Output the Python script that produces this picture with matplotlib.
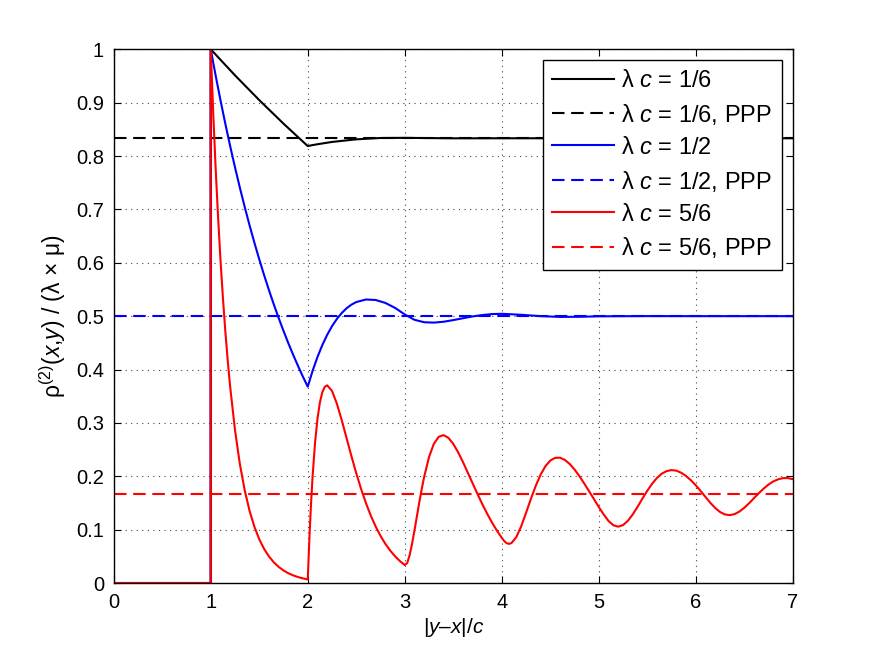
import matplotlib
matplotlib.use('Agg')
import matplotlib.pyplot as plt

plt.rcParams['font.family'] = ['Liberation Sans', 'DejaVu Sans']
plt.rcParams['mathtext.fontset'] = 'custom'
plt.rcParams['mathtext.rm'] = 'Liberation Sans'
plt.rcParams['mathtext.it'] = 'Liberation Sans:italic'

# pair correlation, values
black_r = [0, 1, 1, 1.25, 1.5, 1.75, 2.0, 2.05, 2.1, 2.25, 2.5, 2.75, 3.0, 3.5, 4.0, 5.0, 6.0, 7.0]
black_g = [0, 0, 1, 0.9512, 0.9048, 0.8607, 0.8187, 0.8205, 0.8221, 0.8264, 0.8313, 0.8338, 0.8341,
           0.8332, 0.8333, 0.8333, 0.8333, 0.8333]

blue_r = [0, 1, 1,
          1.05, 1.1, 1.15, 1.2, 1.25, 1.3, 1.35, 1.4, 1.45, 1.5,
          1.55, 1.6, 1.65, 1.7, 1.75, 1.8, 1.85, 1.9, 1.95, 2.0,
          2.05, 2.1, 2.15, 2.2, 2.25, 2.3, 2.35, 2.4, 2.45, 2.5,
          2.6, 2.7, 2.8, 2.9, 3.0, 3.1, 3.2, 3.3, 3.4, 3.5,
          3.6, 3.7, 3.8, 3.9, 4.0, 4.2, 4.4, 4.6, 4.8, 5.0,
          5.5, 6.0, 7.0]
blue_g = [0, 0, 1,
          0.9512, 0.9048, 0.8607, 0.8187, 0.7788, 0.7408, 0.7047, 0.6703, 0.6376, 0.6065,
          0.5769, 0.5488, 0.5220, 0.4966, 0.4724, 0.4493, 0.4274, 0.4066, 0.3867, 0.3679,
          0.3975, 0.4234, 0.4457, 0.4649, 0.4812, 0.4947, 0.5058, 0.5147, 0.5215, 0.5264,
          0.5312, 0.5303, 0.5248, 0.5155, 0.5032, 0.4932, 0.4886, 0.4879, 0.4895, 0.4926,
          0.4961, 0.4995, 0.5021, 0.5039, 0.5044, 0.5026, 0.5000, 0.4986, 0.4988, 0.4997,
          0.5001, 0.5000, 0.5000]

red_r = [0, 1, 1,
         1.025, 1.05, 1.075, 1.1, 1.125, 1.15, 1.175, 1.2, 1.25, 1.3,
         1.35, 1.4, 1.45, 1.5, 1.55, 1.6, 1.65, 1.7, 1.75, 1.8,
         1.85, 1.9, 1.95, 2.0, 2.01, 2.02, 2.035, 2.05, 2.075, 2.1,
         2.125, 2.15, 2.175, 2.2, 2.25, 2.3, 2.35, 2.4, 2.45, 2.5,
         2.55, 2.6, 2.65, 2.7, 2.75, 2.8, 2.85, 2.9, 2.95, 3.0,
         3.025, 3.05, 3.075, 3.1, 3.125, 3.15, 3.175, 3.2, 3.25, 3.3,
         3.35, 3.4, 3.45, 3.5, 3.55, 3.6, 3.65, 3.7, 3.75, 3.8,
         3.85, 3.9, 3.95, 4.0, 4.025, 4.05, 4.075, 4.1, 4.15, 4.2,
         4.25, 4.3, 4.35, 4.4, 4.45, 4.5, 4.55, 4.6, 4.65, 4.7,
         4.75, 4.8, 4.85, 4.9, 4.95, 5.0, 5.05, 5.1, 5.15, 5.2,
         5.25, 5.3, 5.35, 5.4, 5.45, 5.5, 5.55, 5.6, 5.65, 5.7,
         5.75, 5.8, 5.85, 5.9, 5.95, 6.0, 6.05, 6.1, 6.15, 6.2,
         6.25, 6.3, 6.35, 6.4, 6.45, 6.5, 6.55, 6.6, 6.65, 6.7,
         6.75, 6.8, 6.85, 6.9, 6.95, 7.0]
red_g = [0, 0, 1,
         0.8825, 0.7788, 0.6873, 0.6065, 0.5353, 0.4724, 0.4169, 0.3679, 0.2865, 0.2231,
         0.1738, 0.1353, 0.1054, 0.0821, 0.0639, 0.0498, 0.0388, 0.0302, 0.0235, 0.0183,
         0.0143, 0.0111, 0.0087, 0.0067, 0.0540, 0.0966, 0.1526, 0.1999, 0.2623, 0.3074,
         0.3382, 0.3575, 0.3676, 0.3704, 0.3600, 0.3362, 0.3053, 0.2716, 0.2379, 0.2058,
         0.1762, 0.1497, 0.1262, 0.1059, 0.0883, 0.0734, 0.0607, 0.0501, 0.0411, 0.0337,
         0.0374, 0.0519, 0.0732, 0.0983, 0.1248, 0.1512, 0.1761, 0.1988, 0.2359, 0.2608,
         0.2740, 0.2771, 0.2720, 0.2607, 0.2451, 0.2267, 0.2069, 0.1867, 0.1668, 0.1476,
         0.1297, 0.1132, 0.0982, 0.0847, 0.0788, 0.0747, 0.0733, 0.0748, 0.0860, 0.1061,
         0.1311, 0.1575, 0.1819, 0.2028, 0.2188, 0.2294, 0.2345, 0.2348, 0.2307, 0.2231,
         0.2128, 0.2004, 0.1865, 0.1721, 0.1573, 0.1426, 0.1286, 0.1164, 0.1083, 0.1056,
         0.1085, 0.1165, 0.1284, 0.1428, 0.1581, 0.1728, 0.1859, 0.1969, 0.2049, 0.2097,
         0.2116, 0.2105, 0.2066, 0.2005, 0.1925, 0.1831, 0.1725, 0.1613, 0.1503, 0.1407,
         0.1331, 0.1285, 0.1272, 0.1291, 0.1339, 0.1409, 0.1495, 0.1588, 0.1683, 0.1769,
         0.1845, 0.1904, 0.1944, 0.1965, 0.1966, 0.1946]

# PPP reference levels
ppp_x = [0, 7]
ppp_black = 0.8333
ppp_blue = 0.5
ppp_red = 0.1667

labels = ['λ $c$ = 1/6', 'λ $c$ = 1/6, PPP',
          'λ $c$ = 1/2', 'λ $c$ = 1/2, PPP',
          'λ $c$ = 5/6', 'λ $c$ = 5/6, PPP']

x_ticks = [0, 1, 2, 3, 4, 5, 6, 7]
y_ticks = [0, 0.1, 0.2, 0.3, 0.4, 0.5, 0.6, 0.7, 0.8, 0.9, 1.0]
y_ticklabels = ['0', '0.1', '0.2', '0.3', '0.4', '0.5', '0.6', '0.7', '0.8', '0.9', '1']

fig = plt.figure(figsize=(8.75, 6.59), dpi=100)
ax = fig.add_axes([0.13, 0.1153, 0.776, 0.8099])

lw = 1.5
dash = (6, 3.2)
ax.plot(black_r, black_g, color='black', lw=lw, label=labels[0])
ax.plot(ppp_x, [ppp_black, ppp_black], color='black', lw=lw, dashes=dash, label=labels[1])
ax.plot(blue_r, blue_g, color='blue', lw=lw, label=labels[2])
ax.plot(ppp_x, [ppp_blue, ppp_blue], color='blue', lw=lw, dashes=dash, label=labels[3])
ax.plot(red_r, red_g, color='red', lw=lw, label=labels[4])
ax.plot(ppp_x, [ppp_red, ppp_red], color='red', lw=lw, dashes=dash, label=labels[5])

ax.set_xlim(0, 7)
ax.set_ylim(0, 1)
ax.set_xticks(x_ticks)
ax.set_xticklabels([str(t) for t in x_ticks])
ax.set_yticks(y_ticks)
ax.set_yticklabels(y_ticklabels)
ax.tick_params(direction='in', length=5, width=0.8, labelsize=14.5, top=True, right=True, pad=7)
ax.grid(True, linestyle=(0, (1, 4)), color='#444444', linewidth=0.8)
for s in ax.spines.values():
    s.set_linewidth(1.0)

ax.set_xlabel('|$y$–$x$|/$c$', fontsize=15, labelpad=3)
ax.set_ylabel('ρ$^{\\mathit{(2)}}$($\\mathit{x}$,$\\mathit{y}$) / (λ × μ)', fontsize=16.5, labelpad=6)

leg = ax.legend(loc='upper right', fontsize=17, fancybox=False, framealpha=1, edgecolor='black',
                handlelength=2.63, handletextpad=0.3, labelspacing=0.42, borderaxespad=0.47,
                borderpad=0.4)
leg.get_frame().set_linewidth(1.0)

fig.savefig('out.png', dpi=100)
